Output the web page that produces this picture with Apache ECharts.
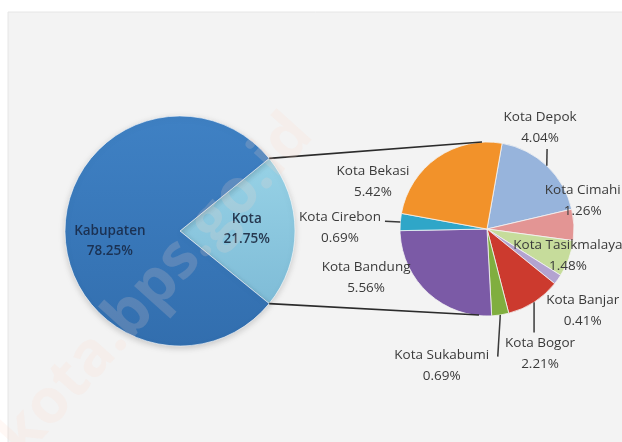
<!DOCTYPE html>
<html>
<head>
<meta charset="utf-8">
<script src="https://cdn.jsdelivr.net/npm/echarts@6/dist/echarts.min.js"></script>
<style>
  html, body { margin: 0; padding: 0; background: #ffffff; }
  #chart { width: 622px; height: 442px; }
</style>
</head>
<body>
<div id="chart"></div>
<script>
// Share of Kabupaten vs Kota, and the breakdown of the Kota share (percent of total)
const mainNames = ['Kota', 'Kabupaten'];
const mainValues = [21.75, 78.25];

const kotaNames = ['Kota Depok', 'Kota Cimahi', 'Kota Tasikmalaya', 'Kota Banjar', 'Kota Bogor',
                   'Kota Sukabumi', 'Kota Bandung', 'Kota Cirebon', 'Kota Bekasi'];
const kotaValues = [4.04, 1.26, 1.48, 0.41, 2.21, 0.69, 5.56, 0.69, 5.42];

// ---- styling ----
const FONT = '"Open Sans", "Noto Sans", sans-serif';
const mainColors = [
  new echarts.graphic.LinearGradient(0, 0, 0, 1, [{offset: 0, color: '#97d2e6'}, {offset: 1, color: '#7fbcd7'}]),
  new echarts.graphic.LinearGradient(0, 0, 0, 1, [{offset: 0, color: '#3f81c4'}, {offset: 1, color: '#326eae'}])
];
const kotaColors = ['#97b4dc', '#e39594', '#c6dc9b', '#b3a3d0', '#cc3a2e', '#80ae3f', '#7b5aa6', '#2fa6c8', '#f2922a'];
const mainLabelColors = ['#26384f', '#1b3152'];

// geometry of the two pies (px)
const MAIN = {cx: 180, cy: 231, r: 115};
const SUB = {cx: 487, cy: 229, r: 87};
const SUB_START = 80;                                  // ECharts startAngle for the Kota breakdown
const MAIN_START = 180 * mainValues[0] / 100;          // centres the Kota wedge on the right side

// label anchor points, in units of the pie radius, relative to its centre
const mainLabelSpots = [[0.58, -0.02], [-0.61, 0.09]];
const kotaLabelSpots = [
  [0.61, -1.16], [1.10, -0.33], [0.93, 0.31], [1.10, 0.94], [0.61, 1.43],
  [-0.52, 1.57], [-1.39, 0.56], [-1.69, -0.01], [-1.31, -0.54]
];
// leader line end points, px offset from the label anchor (index -> offset)
const kotaLeaders = {0: [7, 21], 4: [-6, -21], 5: [56, -9], 7: [45, -7]};

const fmtPct = v => v.toFixed(2) + '%';

function spotPos(geo, spot) {
  return [geo.cx + spot[0] * geo.r, geo.cy + spot[1] * geo.r];
}

// mid-angle of each breakdown slice (radians, clockwise from 12 o'clock)
const kotaSum = kotaValues.reduce((a, b) => a + b, 0);
const kotaMid = [];
(function () {
  let acc = 0;
  const start = 90 - SUB_START;
  kotaValues.forEach(v => {
    kotaMid.push((start + 360 * (acc + v / 2) / kotaSum) * Math.PI / 180);
    acc += v;
  });
})();

const graphics = [];

// plot panel
graphics.push({
  type: 'rect', z: -10, silent: true,
  shape: {x: 8, y: 12, width: 640, height: 460},
  style: {fill: '#f3f3f3', stroke: '#e6e6e6', lineWidth: 1}
});

// connector lines between the Kota wedge and the breakdown pie
(function () {
  const a = MAIN_START * Math.PI / 180;
  const p1 = [MAIN.cx + MAIN.r * Math.cos(a), MAIN.cy - MAIN.r * Math.sin(a)];
  const p2 = [MAIN.cx + MAIN.r * Math.cos(a), MAIN.cy + MAIN.r * Math.sin(a)];
  const q1 = [SUB.cx - 5, SUB.cy - SUB.r];
  const q2 = [SUB.cx - 8, SUB.cy + SUB.r - 1];
  [[p1, q1], [p2, q2]].forEach(([p, q]) => {
    graphics.push({
      type: 'line', z: 5, silent: true,
      shape: {x1: p[0], y1: p[1], x2: q[0], y2: q[1]},
      style: {stroke: '#2b2b2b', lineWidth: 1.7}
    });
  });
})();

// leader lines from slices to their labels
Object.keys(kotaLeaders).forEach(k => {
  const i = +k;
  const ang = kotaMid[i];
  const s = [SUB.cx + SUB.r * Math.sin(ang), SUB.cy - SUB.r * Math.cos(ang)];
  const lp = spotPos(SUB, kotaLabelSpots[i]);
  const e = [lp[0] + kotaLeaders[i][0], lp[1] + kotaLeaders[i][1]];
  graphics.push({
    type: 'line', z: 5, silent: true,
    shape: {x1: s[0], y1: s[1], x2: e[0], y2: e[1]},
    style: {stroke: '#3a3a3a', lineWidth: 1.5}
  });
});

// site watermark
graphics.push({
  type: 'text', z: 100, silent: true,
  x: 156, y: 286, rotation: 48 * Math.PI / 180,
  style: {
    text: 'kota.bps.go.id', fontFamily: FONT, fontSize: 62, fontWeight: 'bold',
    fill: 'rgba(255,214,200,0.18)', align: 'center', verticalAlign: 'middle'
  }
});

const chart = echarts.init(document.getElementById('chart'), null, {renderer: 'canvas'});

chart.setOption({
  backgroundColor: '#ffffff',
  animation: false,
  graphic: graphics,
  series: [
    {
      type: 'pie',
      center: [MAIN.cx, MAIN.cy],
      radius: MAIN.r,
      startAngle: MAIN_START,
      clockwise: true,
      avoidLabelOverlap: false,
      itemStyle: {borderColor: '#ffffff', borderWidth: 0.6, shadowBlur: 6, shadowColor: 'rgba(0,0,0,0.18)', shadowOffsetY: 2},
      label: {
        show: true, position: 'inside', overflow: 'none',
        fontFamily: FONT, fontSize: 13.5, fontWeight: 600, lineHeight: 20, align: 'center',
        formatter: p => p.name + '\n' + fmtPct(p.value)
      },
      labelLine: {show: false},
      labelLayout: p => {
        const pos = spotPos(MAIN, mainLabelSpots[p.dataIndex]);
        return {x: pos[0], y: pos[1], align: 'center', verticalAlign: 'middle'};
      },
      emphasis: {disabled: true},
      data: mainNames.map((n, i) => ({
        name: n, value: mainValues[i],
        itemStyle: {color: mainColors[i]},
        label: {color: mainLabelColors[i]}
      }))
    },
    {
      type: 'pie',
      center: [SUB.cx, SUB.cy],
      radius: SUB.r,
      startAngle: SUB_START,
      clockwise: true,
      avoidLabelOverlap: false,
      itemStyle: {borderColor: '#f4f4f4', borderWidth: 0.8},
      label: {
        show: true, position: 'outside', overflow: 'none',
        fontFamily: FONT, fontSize: 13.5, lineHeight: 21, align: 'center',
        color: '#3a3a3a',
        formatter: p => p.name + '\n' + fmtPct(p.value)
      },
      labelLine: {show: false},
      labelLayout: p => {
        const pos = spotPos(SUB, kotaLabelSpots[p.dataIndex]);
        return {x: pos[0], y: pos[1], align: 'center', verticalAlign: 'middle'};
      },
      emphasis: {disabled: true},
      data: kotaNames.map((n, i) => ({
        name: n, value: kotaValues[i],
        itemStyle: {color: kotaColors[i]}
      }))
    }
  ]
});
</script>
</body>
</html>
